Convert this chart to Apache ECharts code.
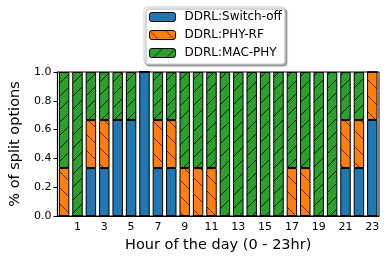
<!DOCTYPE html>
<html><head><meta charset="utf-8">
<script src="https://cdn.jsdelivr.net/npm/echarts@6/dist/echarts.min.js"></script>
<style>html,body{margin:0;padding:0;background:#fff}#c{width:388px;height:262px}</style>
</head><body><div id="c"></div>
<script>
const hours = ['0','1','2','3','4','5','6','7','8','9','10','11','12','13','14','15','16','17','18','19','20','21','22','23'];
const switchOff = [0,0,0.333,0.333,0.667,0.667,1,0.333,0.333,0,0,0,0,0,0,0,0,0,0,0,0,0.333,0.333,0.667];
const phyRF =     [0.333,0,0.333,0.333,0,0,0,0.333,0.333,0.333,0.333,0.333,0,0,0,0,0,0.333,0.333,0,0,0.333,0.333,0.333];
const macPHY =    [0.667,1,0.333,0.333,0.333,0.333,0,0.333,0.333,0.667,0.667,0.667,1,1,1,1,1,0.667,0.667,1,1,0.333,0.333,0];
const seriesNames = ['DDRL:Switch-off','DDRL:PHY-RF','DDRL:MAC-PHY'];
const yTicks = [0,0.2,0.4,0.6,0.8,1.0];

function hatch(fill, dir, s, alpha){
  const c = document.createElement('canvas');
  c.width = s; c.height = s;
  const g = c.getContext('2d');
  g.fillStyle = fill; g.fillRect(0,0,s,s);
  g.strokeStyle = 'rgba(0,0,0,' + alpha + ')'; g.lineWidth = 0.9;
  g.beginPath();
  if (dir === '/') {
    g.moveTo(-1, s+1); g.lineTo(s+1, -1);
  } else {
    g.moveTo(-1, -1); g.lineTo(s+1, s+1);
  }
  g.stroke();
  return {image: c, repeat: 'repeat'};
}

const FONT = 'DejaVu Sans';
const chart = echarts.init(document.getElementById('c'), null, {renderer:'canvas'});
const mk = (name, data, color) => ({
  name, type:'bar', stack:'s', data, barCategoryGap:'22%',
  itemStyle:{color, borderColor:'#000', borderWidth:1}
});
chart.setOption({
  animation:false,
  textStyle:{fontFamily:FONT},
  grid:{left:52, right:9, top:72, bottom:46, show:true, borderColor:'#000', borderWidth:1, backgroundColor:'transparent'},
  legend:{
    orient:'vertical', left:144, top:7,
    data:seriesNames,
    itemWidth:26, itemHeight:9, itemGap:4,
    padding:[3,3,4,5],
    backgroundColor:'#fff', borderColor:'#ccc', borderWidth:1, borderRadius:3,
    shadowColor:'rgba(0,0,0,0.35)', shadowOffsetX:2, shadowOffsetY:2, shadowBlur:1,
    itemStyle:{borderColor:'#000', borderWidth:1},
    textStyle:{fontFamily:FONT, fontSize:12, color:'#000', lineHeight:14, padding:[0,0,0,4]}
  },
  xAxis:{
    type:'category', data:hours,
    name:'Hour of the day (0 - 23hr)', nameLocation:'middle', nameGap:20,
    nameTextStyle:{fontFamily:FONT, fontSize:14.5, color:'#000'},
    axisLine:{lineStyle:{color:'#000'}},
    axisTick:{alignWithLabel:true, interval:(i)=>i%2===1, length:4, lineStyle:{color:'#000'}},
    axisLabel:{interval:(i)=>i%2===1, fontFamily:FONT, fontSize:11, color:'#000', margin:6}
  },
  yAxis:{
    type:'value', min:0, max:1, interval:0.2,
    name:'% of split options', nameLocation:'middle', nameGap:31, nameRotate:90,
    nameTextStyle:{fontFamily:FONT, fontSize:14.5, color:'#000'},
    splitLine:{show:false},
    axisLine:{show:true, lineStyle:{color:'#000'}},
    axisTick:{show:true, length:4, lineStyle:{color:'#000'}},
    axisLabel:{fontFamily:FONT, fontSize:11, color:'#000', margin:6,
      formatter:(v)=>{const t=yTicks.find(x=>Math.abs(x-v)<1e-6); return (t===undefined?v:t).toFixed(1);}}
  },
  series:[
    mk(seriesNames[0], switchOff, '#1f77b4'),
    mk(seriesNames[1], phyRF, hatch('#ff7f0e','\\',16,0.7)),
    mk(seriesNames[2], macPHY, hatch('#2ca02c','/',13,0.85))
  ]
});
</script></body></html>
